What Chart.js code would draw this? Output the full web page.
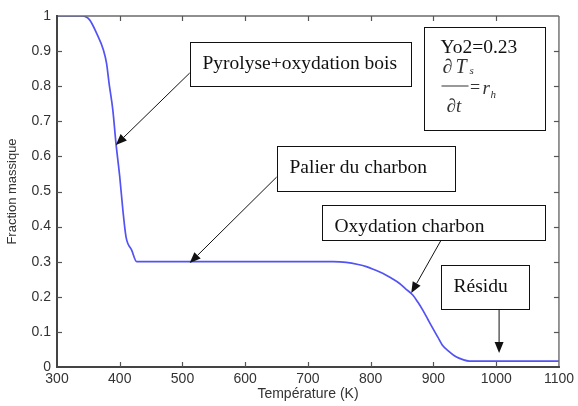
<!DOCTYPE html>
<html>
<head>
<meta charset="utf-8">
<script src="https://cdn.jsdelivr.net/npm/chart.js@4/dist/chart.umd.min.js"></script>
<style>
  html, body { margin: 0; padding: 0; background: #fff; }
  #wrap { width: 578px; height: 406px; position: relative; }
</style>
</head>
<body>
<div id="wrap"><canvas id="c" width="578" height="406"></canvas></div>
<script>
// ---- data ----
const temps = [300, 340, 352, 363, 374, 379, 383, 389, 394, 400, 405, 410, 419, 427, 500, 600, 700, 740, 761, 780, 793, 806, 819, 832, 846, 856, 867, 875, 883, 891, 899, 907, 914, 925, 936, 947, 957, 1000, 1100];
const massFraction = [1.0, 1.0, 0.989, 0.951, 0.903, 0.865, 0.808, 0.732, 0.637, 0.542, 0.447, 0.371, 0.333, 0.30, 0.30, 0.30, 0.30, 0.30, 0.298, 0.292, 0.286, 0.277, 0.267, 0.254, 0.238, 0.222, 0.205, 0.185, 0.162, 0.136, 0.11, 0.085, 0.063, 0.044, 0.029, 0.021, 0.017, 0.017, 0.017];
const xTicks = [300, 400, 500, 600, 700, 800, 900, 1000, 1100];
const xTickLabels = ['300', '400', '500', '600', '700', '800', '900', '1000', '1100'];
const yTicks = [0, 0.1, 0.2, 0.3, 0.4, 0.5, 0.6, 0.7, 0.8, 0.9, 1];
const yTickLabels = ['0', '0.1', '0.2', '0.3', '0.4', '0.5', '0.6', '0.7', '0.8', '0.9', '1'];
const xTitle = 'Température (K)';
const yTitle = 'Fraction massique';

// annotation boxes (data coordinates) and arrows
const boxes = [
  { text: 'Pyrolyse+oxydation bois', x0: 511.5, x1: 864.6, y0: 0.926, y1: 0.8006 },
  { text: 'Palier du charbon',       x0: 649.9, x1: 934.6, y0: 0.6296, y1: 0.5014 },
  { text: 'Oxydation charbon',       x0: 723.0, x1: 1077.7, y0: 0.4615, y1: 0.3618 },
  { text: 'Résidu',                  x0: 912.3, x1: 1052.3, y0: 0.2906, y1: 0.1652 }
];
const arrows = [
  { fx: 511.5, fy: 0.8376, tx: 393.8, ty: 0.6325 },
  { fx: 650.0, fy: 0.541,  tx: 511.5, ty: 0.296 },
  { fx: 912.3, fy: 0.3618, tx: 864.6, ty: 0.2108 },
  { fx: 1004.6, fy: 0.1652, tx: 1004.6, ty: 0.0399 }
];
const formulaBox = { x0: 885.3, x1: 1077.7, y0: 0.9687, y1: 0.6752, line1: 'Yo2=0.23' };

const serif = '"Liberation Serif", "Times New Roman", serif';
const sans = '"Liberation Sans", Arial, sans-serif';

const frame = {
  id: 'frame',
  afterDraw(chart) {
    const { ctx, chartArea: { left, right, top, bottom }, scales: { x, y } } = chart;
    ctx.save();
    const seg = (a, b, c, d) => { ctx.beginPath(); ctx.moveTo(a, b); ctx.lineTo(c, d); ctx.stroke(); };
    // top/right lighter
    ctx.strokeStyle = '#6a6a6a'; ctx.lineWidth = 1.4;
    seg(left, top, right, top);
    seg(right, top, right, bottom);
    // left/bottom darker
    ctx.strokeStyle = '#444'; ctx.lineWidth = 2;
    seg(left, top - 1, left, bottom + 1);
    seg(left - 1, bottom, right + 1, bottom);
    // inward ticks
    ctx.lineWidth = 1.2; ctx.strokeStyle = '#555';
    xTicks.forEach(t => {
      if (t === xTicks[0] || t === xTicks[xTicks.length - 1]) return;
      const px = Math.round(x.getPixelForValue(t)) + 0.5;
      seg(px, bottom, px, bottom - 5);
      seg(px, top, px, top + 5);
    });
    yTicks.forEach(t => {
      if (t === yTicks[0] || t === yTicks[yTicks.length - 1]) return;
      const py = Math.round(y.getPixelForValue(t)) + 0.5;
      seg(left, py, left + 5, py);
      seg(right, py, right - 5, py);
    });

    // annotation boxes
    ctx.lineWidth = 1; ctx.strokeStyle = '#111';
    const rect = (b) => {
      const L = Math.round(x.getPixelForValue(b.x0)) + 0.5, R = Math.round(x.getPixelForValue(b.x1)) + 0.5;
      const T = Math.round(y.getPixelForValue(b.y0)) + 0.5, B = Math.round(y.getPixelForValue(b.y1)) + 0.5;
      ctx.fillStyle = '#fff';
      ctx.fillRect(L, T, R - L, B - T);
      ctx.strokeRect(L, T, R - L, B - T);
      return { L, R, T, B };
    };
    ctx.textBaseline = 'alphabetic';
    ctx.textAlign = 'left';
    boxes.forEach(b => {
      const r = rect(b);
      ctx.fillStyle = '#111';
      ctx.font = '19.5px ' + serif;
      ctx.fillText(b.text, r.L + 12, r.T + 26);
    });

    // formula box
    const f = rect(formulaBox);
    ctx.fillStyle = '#111';
    ctx.font = '19.5px ' + serif;
    ctx.fillText(formulaBox.line1, f.L + 16, f.T + 25);
    ctx.fillStyle = '#333';
    ctx.font = 'italic 20px ' + serif;
    ctx.fillText('\u2202', f.L + 18, f.T + 45);
    ctx.fillText('T', f.L + 31, f.T + 45);
    ctx.font = 'italic 11px ' + serif;
    ctx.fillText('s', f.L + 45, f.T + 46);
    ctx.strokeStyle = '#333'; ctx.lineWidth = 1;
    seg(f.L + 17, f.T + 58.5, f.L + 44, f.T + 58.5);
    ctx.font = 'italic 19px ' + serif;
    ctx.fillText('\u2202t', f.L + 22, f.T + 84);
    ctx.font = '18px ' + serif;
    ctx.fillText('=', f.L + 45.5, f.T + 65);
    ctx.font = 'italic 19px ' + serif;
    ctx.fillText('r', f.L + 58, f.T + 66);
    ctx.font = 'italic 11px ' + serif;
    ctx.fillText('h', f.L + 66, f.T + 70);

    // arrows
    ctx.strokeStyle = '#111'; ctx.fillStyle = '#111'; ctx.lineWidth = 1;
    arrows.forEach(a => {
      const x1 = x.getPixelForValue(a.fx), y1 = y.getPixelForValue(a.fy);
      const x2 = x.getPixelForValue(a.tx), y2 = y.getPixelForValue(a.ty);
      const ang = Math.atan2(y2 - y1, x2 - x1);
      const hl = 11, hw = 4.5;
      const bx = x2 - hl * Math.cos(ang), by = y2 - hl * Math.sin(ang);
      seg(x1, y1, bx, by);
      ctx.beginPath();
      ctx.moveTo(x2, y2);
      ctx.lineTo(bx + hw * Math.sin(ang), by - hw * Math.cos(ang));
      ctx.lineTo(bx - hw * Math.sin(ang), by + hw * Math.cos(ang));
      ctx.closePath();
      ctx.fill();
    });
    ctx.restore();
  }
};

new Chart(document.getElementById('c'), {
  type: 'line',
  data: {
    datasets: [{
      data: temps.map((t, i) => ({ x: t, y: massFraction[i] })),
      borderColor: 'rgb(82,82,245)',
      borderWidth: 1.7,
      pointRadius: 0,
      fill: false,
      tension: 0,
      cubicInterpolationMode: 'monotone'
    }]
  },
  options: {
    responsive: false,
    animation: false,
    devicePixelRatio: 1,
    layout: { padding: { top: 16, right: 18, left: 0, bottom: 0 } },
    plugins: { legend: { display: false }, tooltip: { enabled: false }, title: { display: false } },
    scales: {
      x: {
        type: 'linear', min: 300, max: 1100,
        afterBuildTicks: s => { s.ticks = xTicks.map(v => ({ value: v })); },
        afterFit: s => { s.height = 39; },
        grid: { display: true, drawOnChartArea: false, drawTicks: false },
        border: { display: false },
        ticks: {
          autoSkip: false, maxRotation: 0, padding: 4,
          color: '#333', font: { family: sans, size: 14 },
          callback: (v, i) => xTickLabels[i]
        },
        title: { display: true, text: xTitle, color: '#333', font: { family: sans, size: 14 }, padding: { top: 0, bottom: 3 } }
      },
      y: {
        min: 0, max: 1,
        afterBuildTicks: s => { s.ticks = yTicks.map(v => ({ value: v })); },
        afterFit: s => { s.width = 57; },
        grid: { display: true, drawOnChartArea: false, drawTicks: false },
        border: { display: false },
        ticks: {
          autoSkip: false, padding: 6,
          color: '#333', font: { family: sans, size: 14 },
          callback: (v, i) => yTickLabels[i]
        },
        title: { display: true, text: yTitle, color: '#333', font: { family: sans, size: 13 }, padding: { top: 5, bottom: 0 } }
      }
    }
  },
  plugins: [frame]
});
</script>
</body>
</html>
